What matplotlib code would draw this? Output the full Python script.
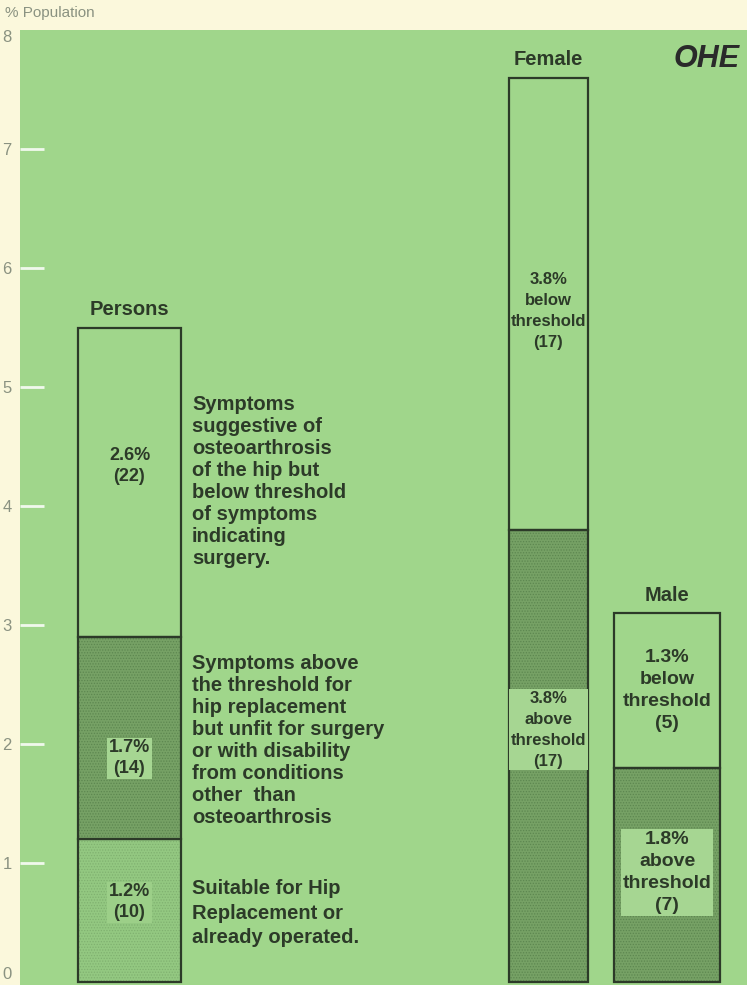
import matplotlib.pyplot as plt

# data (% of population, number of cases in brackets)
persons_values = [1.2, 1.7, 2.6]
persons_counts = [10, 14, 22]
female_values = [3.8, 3.8]
female_counts = [17, 17]
male_values = [1.8, 1.3]
male_counts = [7, 5]
groups = ["Persons", "Female", "Male"]
y_ticks = [0, 1, 2, 3, 4, 5, 6, 7, 8]

persons_notes = [
    "Suitable for Hip\nReplacement or\nalready operated.",
    "Symptoms above\nthe threshold for\nhip replacement\nbut unfit for surgery\nor with disability\nfrom conditions\nother  than\nosteoarthrosis",
    "Symptoms\nsuggestive of\nosteoarthrosis\nof the hip but\nbelow threshold\nof symptoms\nindicating\nsurgery.",
]

CREAM = "#fbf8dc"
GREEN = "#a0d68b"
DARK = "#76a165"
DARK_HATCH = "#5d8750"
LIGHT = "#93c881"
LIGHT_HATCH = "#80b170"
INK = "#2c3a28"
GREY = "#8a9281"

plt.rcParams['font.family'] = ['Liberation Sans', 'DejaVu Sans']
plt.rcParams['hatch.linewidth'] = 0.6

fig = plt.figure(figsize=(7.47, 9.85), dpi=100, facecolor=CREAM)
ax = fig.add_axes([20 / 747, 0, 727 / 747, 955 / 985])
ax.set_facecolor(GREEN)
ax.set_xlim(0, 727)
ax.set_ylim(-0.025, 8)
for s in ax.spines.values():
    s.set_visible(False)
ax.set_xticks([])
ax.set_yticks(y_ticks)
ax.tick_params(axis='y', length=0, pad=6, labelsize=12, labelcolor=GREY)
labels = ax.get_yticklabels()
labels[0].set_va("bottom")
labels[-1].set_va("top")
ax.hlines(y_ticks[1:-1], 0, 24, color="white", lw=2, alpha=0.85)

fig.text(5 / 747, 1 - 13 / 985, "% Population", fontsize=11, color=GREY,
         va="center", ha="left")

# bar layout: centre, width, label size, line spacing, segment styles, label offsets
layout = {
    "Persons": (109.5, 103, 13, 1.3, ["light", "dark", "plain"], [0.07, -0.17, 0.14]),
    "Female": (528.5, 79, 12, 1.5, ["dark", "plain"], [0.22, -0.06]),
    "Male": (647, 106, 14, 1.4, ["dark", "plain"], [0.02, 0.0]),
}
values = {"Persons": persons_values, "Female": female_values, "Male": male_values}
counts = {"Persons": persons_counts, "Female": female_counts, "Male": male_counts}

for g in groups:
    xc, w, fs, ls, styles, offs = layout[g]
    bottom = 0
    for i, (v, n) in enumerate(zip(values[g], counts[g])):
        st = styles[i]
        if st == "dark":
            ax.bar(xc, v, w, bottom=bottom, color=DARK, edgecolor=DARK_HATCH,
                   hatch="......", lw=0)
        elif st == "light":
            ax.bar(xc, v, w, bottom=bottom, color=LIGHT, edgecolor=LIGHT_HATCH,
                   hatch="......", lw=0)
        ax.bar(xc, v, w, bottom=bottom, fill=False, edgecolor=INK, lw=1.6)

        if g == "Persons":
            txt = f"{v}%\n({n})"
        elif st == "dark":
            txt = f"{v}%\nabove\nthreshold\n({n})"
        else:
            txt = f"{v}%\nbelow\nthreshold\n({n})"
        box = None
        if st == "dark":
            box = dict(boxstyle="square,pad=0.1", fc="#a6d692", ec="none")
        elif st == "light":
            box = dict(boxstyle="square,pad=0.1", fc="#9ccf88", ec="none")
        ax.text(xc, bottom + v / 2 + offs[i], txt, ha="center", va="center",
                fontsize=fs, fontweight="bold", color=INK, linespacing=ls,
                bbox=box)
        bottom += v
    ax.text(xc, bottom + 0.07, g, ha="center", va="bottom", fontsize=14.5,
            fontweight="bold", color=INK)

# explanatory notes to the right of the Persons bar
note_y = [0.58, 2.03, 4.21]
note_ls = [1.35, 1.2, 1.2]
for txt, y, ls in zip(persons_notes, note_y, note_ls):
    ax.text(172, y, txt, ha="left", va="center", fontsize=14.5,
            fontweight="bold", color=INK, linespacing=ls)

ax.text(720, 7.76, "OHE", ha="right", va="center", fontsize=22,
        fontweight="bold", fontstyle="italic", color="#2a2a2a")

fig.savefig("out.png", dpi=100, facecolor=CREAM)
